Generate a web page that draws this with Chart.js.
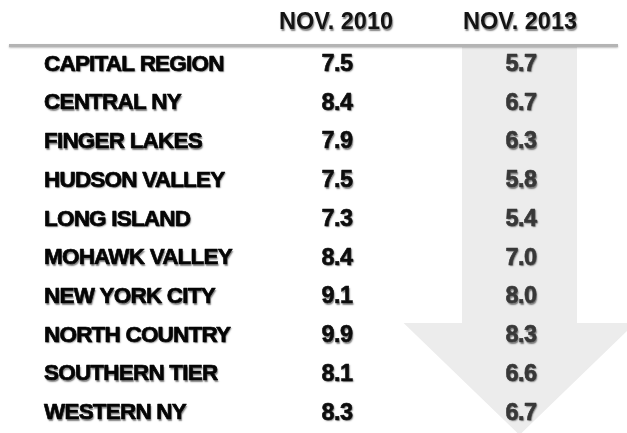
<!DOCTYPE html>
<html>
<head>
<meta charset="utf-8">
<script src="https://cdn.jsdelivr.net/npm/chart.js@4/dist/chart.umd.min.js"></script>
<style>
  html, body { margin: 0; padding: 0; background: #ffffff; overflow: hidden; }
  canvas { display: block; }
</style>
</head>
<body>
<canvas id="c" width="627" height="433" style="width:627px;height:433px"></canvas>
<script>
// ---- data ----
const regions = [
  'CAPITAL REGION', 'CENTRAL NY', 'FINGER LAKES', 'HUDSON VALLEY', 'LONG ISLAND',
  'MOHAWK VALLEY', 'NEW YORK CITY', 'NORTH COUNTRY', 'SOUTHERN TIER', 'WESTERN NY'
];
const periods = ['NOV. 2010', 'NOV. 2013'];
const nov2010 = [7.5, 8.4, 7.9, 7.5, 7.3, 8.4, 9.1, 9.9, 8.1, 8.3];
const nov2013 = [5.7, 6.7, 6.3, 5.8, 5.4, 7.0, 8.0, 8.3, 6.6, 6.7];

const FONT = "'Liberation Sans', Arial, Helvetica, sans-serif";

function toPoints(period, values) {
  return regions.map((r, i) => ({ x: period, y: r, v: values[i] }));
}

function heavyText(ctx, txt, x, y, strokeW) {
  ctx.fillText(txt, x, y);
  ctx.save();
  ctx.shadowColor = 'rgba(0,0,0,0)';
  ctx.lineWidth = strokeW;
  ctx.strokeStyle = ctx.fillStyle;
  ctx.lineJoin = 'round';
  ctx.strokeText(txt, x, y);
  ctx.restore();
}

const tablePlugin = {
  id: 'tablePlugin',
  beforeDatasetsDraw(chart) {
    const ctx = chart.ctx;
    const xs = chart.scales.x, ys = chart.scales.y;
    const ca = chart.chartArea;
    const colW = xs.getPixelForValue(1) - xs.getPixelForValue(0);
    const rowH = ys.getPixelForValue(1) - ys.getPixelForValue(0);
    const cx = xs.getPixelForValue(1) - 1.5;
    const shaftHalf = colW * 0.3125;
    const headHalf = colW * 0.63;
    const headTop = ys.getPixelForValue(7) - rowH * 0.3;
    const tipY = chart.height + 2;
    ctx.save();
    ctx.fillStyle = '#ececec';
    ctx.beginPath();
    ctx.moveTo(cx - shaftHalf, ca.top);
    ctx.lineTo(cx + shaftHalf, ca.top);
    ctx.lineTo(cx + shaftHalf, headTop);
    ctx.lineTo(cx + headHalf, headTop);
    ctx.lineTo(cx, tipY);
    ctx.lineTo(cx - headHalf, headTop);
    ctx.lineTo(cx - shaftHalf, headTop);
    ctx.closePath();
    ctx.fill();

    // header rule
    ctx.strokeStyle = '#b4b4b4';
    ctx.lineWidth = 3;
    ctx.shadowColor = 'rgba(0,0,0,0.25)';
    ctx.shadowBlur = 2;
    ctx.shadowOffsetY = 1;
    ctx.beginPath();
    ctx.moveTo(9, ca.top + 1.5);
    ctx.lineTo(618, ca.top + 1.5);
    ctx.stroke();
    ctx.restore();
  },
  afterDatasetsDraw(chart) {
    const ctx = chart.ctx;
    const xs = chart.scales.x, ys = chart.scales.y;
    ctx.save();
    ctx.textBaseline = 'middle';
    ctx.shadowColor = 'rgba(0,0,0,0.5)';
    ctx.shadowOffsetX = 1;
    ctx.shadowOffsetY = 1.5;
    ctx.shadowBlur = 1.5;

    // column headers
    ctx.textAlign = 'center';
    ctx.font = 'bold 23.5px ' + FONT;
    ctx.letterSpacing = '0px';
    ctx.fillStyle = '#141414';
    periods.forEach((p, i) => {
      ctx.fillText(p, xs.getPixelForValue(i) - 1, 23);
    });

    // row labels
    ctx.textAlign = 'left';
    ctx.font = 'bold 22.5px ' + FONT;
    ctx.letterSpacing = '-0.8px';
    ctx.fillStyle = '#050505';
    ys.getLabels().forEach((lab, i) => {
      heavyText(ctx, lab, ys.left, ys.getPixelForValue(i) + 1, 0.7);
    });

    // values
    ctx.textAlign = 'center';
    ctx.font = 'bold 23.5px ' + FONT;
    ctx.letterSpacing = '-0.5px';
    chart.data.datasets.forEach((ds, di) => {
      const meta = chart.getDatasetMeta(di);
      ctx.fillStyle = di === 0 ? '#0d0d0d' : '#383838';
      meta.data.forEach((el, i) => {
        heavyText(ctx, ds.data[i].v.toFixed(1), el.x, el.y + 1, 0.6);
      });
    });
    ctx.restore();
  }
};

new Chart(document.getElementById('c'), {
  type: 'scatter',
  data: {
    datasets: [
      { label: periods[0], data: toPoints(periods[0], nov2010), pointRadius: 0 },
      { label: periods[1], data: toPoints(periods[1], nov2013), pointRadius: 0 }
    ]
  },
  options: {
    responsive: false,
    maintainAspectRatio: false,
    animation: false,
    events: [],
    layout: { padding: { left: 44, top: 44, right: 14, bottom: 1.6 } },
    plugins: { legend: { display: false }, tooltip: { enabled: false } },
    scales: {
      x: {
        type: 'category',
        labels: periods,
        offset: true,
        display: false
      },
      y: {
        type: 'category',
        labels: regions,
        offset: true,
        grid: { display: false },
        border: { display: false },
        ticks: { display: false, padding: 0 },
        afterFit(scale) { scale.width = 201; }
      }
    }
  },
  plugins: [tablePlugin]
});
</script>
</body>
</html>
